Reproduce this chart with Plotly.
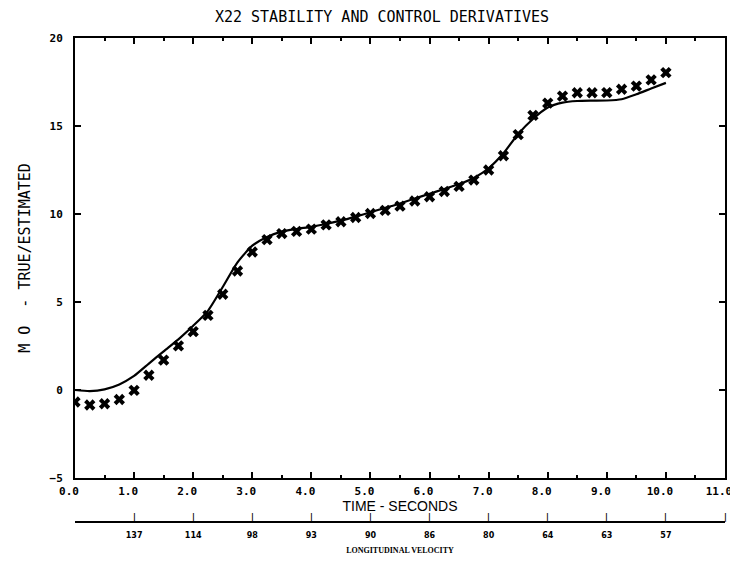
import plotly.graph_objects as go

# Estimated values (markers), sampled every 0.25 s
est_time = [0.0, 0.25, 0.5, 0.75, 1.0, 1.25, 1.5, 1.75, 2.0, 2.25, 2.5, 2.75,
            3.0, 3.25, 3.5, 3.75, 4.0, 4.25, 4.5, 4.75, 5.0, 5.25, 5.5, 5.75,
            6.0, 6.25, 6.5, 6.75, 7.0, 7.25, 7.5, 7.75, 8.0, 8.25, 8.5, 8.75,
            9.0, 9.25, 9.5, 9.75, 10.0]
est_vals = [-0.68, -0.85, -0.78, -0.54, -0.02, 0.84, 1.70, 2.51, 3.32, 4.24,
            5.44, 6.76, 7.84, 8.54, 8.89, 9.01, 9.14, 9.38, 9.56, 9.80,
            10.03, 10.21, 10.45, 10.74, 10.98, 11.28, 11.57, 11.93, 12.50,
            13.31, 14.51, 15.60, 16.30, 16.70, 16.89, 16.89, 16.90, 17.09,
            17.27, 17.62, 18.03]

# True values (solid curve)
true_time = est_time
true_vals = [0.0, -0.06, 0.04, 0.32, 0.80, 1.50, 2.20, 2.88, 3.65, 4.50,
             5.85, 7.25, 8.20, 8.70, 9.00, 9.15, 9.27, 9.43, 9.62, 9.85,
             10.10, 10.35, 10.60, 10.88, 11.15, 11.42, 11.70, 12.05, 12.60,
             13.45, 14.55, 15.40, 16.05, 16.33, 16.42, 16.44, 16.45, 16.52,
             16.80, 17.13, 17.45]

# Time axis ticks
time_ticks = [0, 1, 2, 3, 4, 5, 6, 7, 8, 9, 10, 11]
y_ticks = [-5, 0, 5, 10, 15, 20]

# Secondary axis: longitudinal velocity
vel_pos = [1, 2, 3, 4, 5, 6, 7, 8, 9, 10, 11]
vel_labels = ["137", "114", "98", "93", "90", "86", "80", "64", "63", "57", ""]

mono = "DejaVu Sans Mono"
W, H = 730, 550  # page body adds an 8 px offset on every side

fig = go.Figure()
fig.add_trace(go.Scatter(
    x=true_time, y=true_vals, mode="lines",
    line=dict(color="black", width=2.2, shape="spline", smoothing=0.6),
    hoverinfo="skip"))
fig.add_trace(go.Scatter(
    x=est_time, y=est_vals, mode="markers",
    marker=dict(symbol="x", size=10, color="black", line=dict(width=0)),
    hoverinfo="skip"))
# carrier for the velocity axis
fig.add_trace(go.Scatter(
    x=vel_pos, y=[0.5] * len(vel_pos), xaxis="x2", yaxis="y2",
    mode="markers", marker=dict(opacity=0), hoverinfo="skip"))

# upward tick strokes of the velocity axis, placed on the x2 scale
for v in vel_pos:
    fig.add_annotation(x=v, xref="x2", y=0, yref="paper", text="|",
                       showarrow=False, xanchor="center", yanchor="bottom",
                       borderpad=0, yshift=-2,
                       font=dict(family=mono, size=8, color="black",
                                 weight="bold"))

fig.update_layout(
    width=W, height=H,
    margin=dict(l=67, r=13, t=30, b=37),
    paper_bgcolor="white", plot_bgcolor="rgba(0,0,0,0)",
    showlegend=False,
    title=dict(text="X22 STABILITY AND CONTROL DERIVATIVES",
               x=374 / W, xanchor="center", y=1 - 9 / H, yanchor="middle",
               font=dict(family=mono, size=15, color="black")),
    xaxis=dict(
        range=[0, 11], anchor="y",
        tickvals=time_ticks, tickformat=".1f",
        ticks="inside", ticklen=6, tickwidth=2, tickcolor="black",
        minor=dict(dtick=0.5, tick0=0, ticks="inside", ticklen=3,
                   tickwidth=2, tickcolor="black"),
        showline=True, linewidth=2, linecolor="black", mirror="allticks",
        showgrid=False, zeroline=False, automargin=False,
        ticklabelstandoff=2, ticklabelshift=-6, ticklabeloverflow="allow",
        tickfont=dict(family=mono, size=11, color="black", weight="bold"),
        title=dict(text="TIME - SECONDS", standoff=0,
                   font=dict(family="Liberation Sans", size=14, color="black")),
    ),
    yaxis=dict(
        range=[-5, 20], domain=[0.089, 1], anchor="x",
        tickvals=y_ticks,
        ticks="inside", ticklen=6, tickwidth=2, tickcolor="black",
        showline=True, linewidth=2, linecolor="black", mirror="allticks",
        showgrid=False, zeroline=False, automargin=False,
        ticklabelstandoff=8,
        tickfont=dict(family=mono, size=11, color="black", weight="bold"),
        title=dict(text="M\u00a0O\u00a0\u00a0-\u00a0TRUE/ESTIMATED", standoff=15,
                   font=dict(family=mono, size=15, color="black")),
    ),
    xaxis2=dict(
        range=[0, 11], anchor="y2", side="bottom",
        tickvals=vel_pos, ticktext=vel_labels,
        ticks="",
        showline=True, linewidth=2, linecolor="black",
        showgrid=False, zeroline=False, automargin=False,
        ticklabelstandoff=5, ticklabeloverflow="allow",
        tickfont=dict(family="DejaVu Sans", size=8, color="black", weight="bold"),
        title=dict(text="LONGITUDINAL VELOCITY", standoff=9,
                   font=dict(family="Liberation Serif", size=8, color="black",
                             weight="bold")),
    ),
    yaxis2=dict(domain=[0, 0.089], range=[0, 1], anchor="x2",
                showline=False, showticklabels=False, ticks="",
                showgrid=False, zeroline=False),
)

fig.write_html("out.html")
